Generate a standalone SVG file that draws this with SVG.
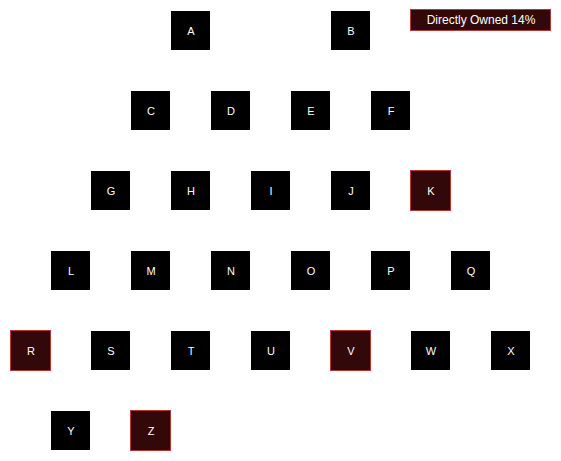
<svg xmlns="http://www.w3.org/2000/svg" width="561" height="461" viewBox="0 0 561 461">
<style>
.n rect{fill:#000}
.o rect{fill:#330808;stroke:#b03a3a;stroke-width:1}
text{font-family:"Liberation Sans",Arial,sans-serif;font-size:11px;fill:#fff;text-anchor:middle;dominant-baseline:central}
#legend text{font-size:12px}
</style>
<rect width="561" height="461" fill="#fff"/>
<g id="connectors"></g>
<g id="A" class="n"><rect x="171" y="11" width="39" height="39"/><text x="191" y="31">A</text></g>
<g id="B" class="n"><rect x="331" y="11" width="39" height="39"/><text x="351" y="31">B</text></g>
<g id="C" class="n"><rect x="131" y="91" width="39" height="39"/><text x="151" y="111">C</text></g>
<g id="D" class="n"><rect x="211" y="91" width="39" height="39"/><text x="231" y="111">D</text></g>
<g id="E" class="n"><rect x="291" y="91" width="39" height="39"/><text x="311" y="111">E</text></g>
<g id="F" class="n"><rect x="371" y="91" width="39" height="39"/><text x="391" y="111">F</text></g>
<g id="G" class="n"><rect x="91" y="171" width="39" height="39"/><text x="111" y="191">G</text></g>
<g id="H" class="n"><rect x="171" y="171" width="39" height="39"/><text x="191" y="191">H</text></g>
<g id="I" class="n"><rect x="251" y="171" width="39" height="39"/><text x="271" y="191">I</text></g>
<g id="J" class="n"><rect x="331" y="171" width="39" height="39"/><text x="351" y="191">J</text></g>
<g id="K" class="o"><rect x="410.5" y="170.5" width="40" height="40"/><text x="431" y="191">K</text></g>
<g id="L" class="n"><rect x="51" y="251" width="39" height="39"/><text x="71" y="271">L</text></g>
<g id="M" class="n"><rect x="131" y="251" width="39" height="39"/><text x="151" y="271">M</text></g>
<g id="N" class="n"><rect x="211" y="251" width="39" height="39"/><text x="231" y="271">N</text></g>
<g id="O" class="n"><rect x="291" y="251" width="39" height="39"/><text x="311" y="271">O</text></g>
<g id="P" class="n"><rect x="371" y="251" width="39" height="39"/><text x="391" y="271">P</text></g>
<g id="Q" class="n"><rect x="451" y="251" width="39" height="39"/><text x="471" y="271">Q</text></g>
<g id="R" class="o"><rect x="10.5" y="330.5" width="40" height="40"/><text x="31" y="351">R</text></g>
<g id="S" class="n"><rect x="91" y="331" width="39" height="39"/><text x="111" y="351">S</text></g>
<g id="T" class="n"><rect x="171" y="331" width="39" height="39"/><text x="191" y="351">T</text></g>
<g id="U" class="n"><rect x="251" y="331" width="39" height="39"/><text x="271" y="351">U</text></g>
<g id="V" class="o"><rect x="330.5" y="330.5" width="40" height="40"/><text x="351" y="351">V</text></g>
<g id="W" class="n"><rect x="411" y="331" width="39" height="39"/><text x="431" y="351">W</text></g>
<g id="X" class="n"><rect x="491" y="331" width="39" height="39"/><text x="511" y="351">X</text></g>
<g id="Y" class="n"><rect x="51" y="411" width="39" height="39"/><text x="71" y="431">Y</text></g>
<g id="Z" class="o"><rect x="130.5" y="410.5" width="40" height="40"/><text x="151" y="431">Z</text></g>
<g id="legend" class="o"><rect x="410.5" y="9.5" width="140" height="21"/><text x="481" y="20">Directly Owned 14%</text></g>
</svg>
